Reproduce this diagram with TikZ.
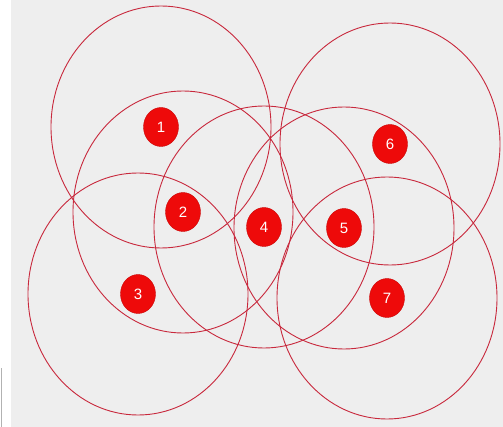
\documentclass[tikz,border=0pt]{standalone}
\usepackage{fontspec}
\setmainfont{Liberation Sans}
\usetikzlibrary{shapes.geometric}

\definecolor{panelgray}{HTML}{EEEEEE}
\definecolor{rangered}{HTML}{C8283C}
\definecolor{sensorred}{HTML}{EE0A0A}

\tikzset{
    sensor/.style={ellipse, fill=sensorred, draw=sensorred!85!black, line width=0.4pt,
        minimum width=35, minimum height=39, inner sep=0pt,
        text=white, font=\fontsize{15}{15}\selectfont},
    radiorange/.style={draw=rangered, line width=0.9pt}
}

\begin{document}
\begin{tikzpicture}[
    x=1pt,
    y=-1pt
]

% Frame
\useasboundingbox (0,0) rectangle (503,427);
\fill[white] (0,0) rectangle (11,427);
\fill[panelgray] (11,0) rectangle (503,427);
\draw[gray!60, line width=0.8pt] (1.5,368) -- (1.5,427);

% Sensors
\foreach \x/\y/\name in {
    161/127/1,
    183/212/2,
    138/294/3,
    264/227/4,
    344/228/5,
    390/144/6,
    387/298/7} {
    \node[sensor] (n\name) at (\x,\y) {\name};
}

% Ranges
\foreach \name in {1,...,7} {
    \draw[radiorange] (n\name.center) ellipse [x radius=110, y radius=121];
}

\end{tikzpicture}
\end{document}
